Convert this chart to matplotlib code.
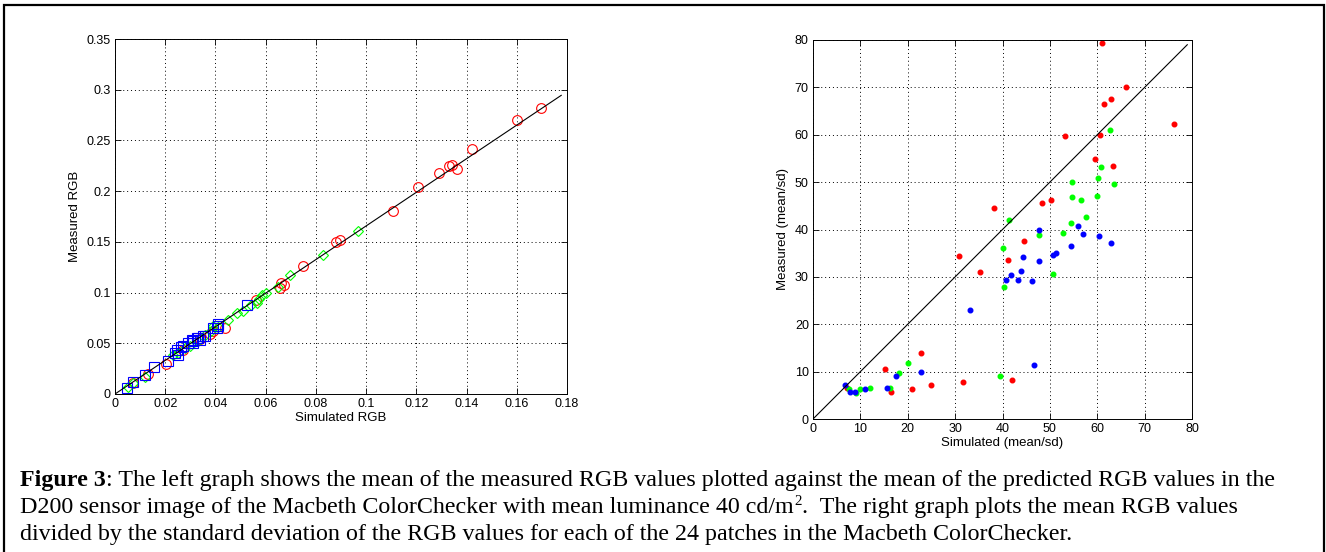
import matplotlib
matplotlib.use("Agg")
import matplotlib.pyplot as plt
from matplotlib.patches import Rectangle

# left graph: mean RGB, simulated vs measured
red_sim = [0.1698, 0.1602, 0.1421, 0.1360, 0.1344, 0.1330, 0.1290, 0.1208, 0.1109, 0.0898,
           0.0879, 0.0749, 0.0663, 0.0673, 0.0659, 0.0560, 0.0438, 0.0391, 0.0203, 0.0131,
           0.0340, 0.0380, 0.0070, 0.0270]
red_meas = [0.2820, 0.2700, 0.2415, 0.2215, 0.2254, 0.2250, 0.2176, 0.2044, 0.1808, 0.1515,
            0.1495, 0.1259, 0.1094, 0.1078, 0.1045, 0.0923, 0.0651, 0.0618, 0.0296, 0.0200,
            0.0540, 0.0590, 0.0110, 0.0430]
green_sim = [0.0969, 0.0829, 0.0696, 0.0650, 0.0586, 0.0573, 0.0564, 0.0508, 0.0484, 0.0381,
             0.0391, 0.0298, 0.0232, 0.0119, 0.0073, 0.0330, 0.0360, 0.0410, 0.0250, 0.0280,
             0.0600, 0.0450, 0.0540, 0.0050]
green_meas = [0.1607, 0.1374, 0.1177, 0.1052, 0.0980, 0.0937, 0.0897, 0.0822, 0.0799, 0.0618,
              0.0674, 0.0470, 0.0388, 0.0164, 0.0108, 0.0520, 0.0580, 0.0660, 0.0400, 0.0450,
              0.1000, 0.0730, 0.0880, 0.0070]
blue_sim = [0.0527, 0.0411, 0.0405, 0.0391, 0.0351, 0.0325, 0.0312, 0.0305, 0.0292, 0.0261,
            0.0248, 0.0239, 0.0252, 0.0212, 0.0157, 0.0119, 0.0073, 0.0046, 0.0330, 0.0340,
            0.0360, 0.0270, 0.0310, 0.0410]
blue_meas = [0.0877, 0.0690, 0.0650, 0.0650, 0.0569, 0.0552, 0.0519, 0.0536, 0.0503, 0.0463,
             0.0437, 0.0404, 0.0388, 0.0329, 0.0263, 0.0191, 0.0115, 0.0059, 0.0550, 0.0530,
             0.0570, 0.0470, 0.0500, 0.0670]
fit_x = [0.0, 0.1777]
fit_slope = 1.657

# right graph: mean / sd
r_sim = [60.9, 66.1, 61.4, 62.9, 76.2, 53.1, 60.5, 59.5, 63.4, 50.3, 48.4, 38.2,
         44.5, 41.2, 30.8, 35.2, 22.9, 15.1, 42.0, 31.7, 24.9, 20.8, 16.5, 7.2]
r_meas = [79.3, 70.0, 66.5, 67.5, 62.3, 59.7, 60.0, 54.8, 53.4, 46.2, 45.5, 44.5,
          37.6, 33.6, 34.5, 31.0, 13.9, 10.6, 8.3, 7.9, 7.2, 6.3, 5.8, 6.6]
g_sim = [62.6, 60.7, 60.2, 63.5, 54.7, 54.7, 59.9, 56.6, 57.6, 41.4, 54.5, 52.8,
         47.6, 40.1, 50.7, 40.3, 20.1, 18.2, 39.4, 16.3, 12.0, 10.0, 9.1, 7.6]
g_meas = [61.1, 53.2, 50.9, 49.5, 50.1, 46.9, 47.1, 46.2, 42.6, 42.1, 41.3, 39.2,
          38.9, 36.0, 30.7, 27.9, 11.8, 9.8, 9.0, 6.5, 6.5, 6.3, 5.4, 6.3]
b_sim = [47.6, 55.9, 56.9, 60.4, 62.8, 54.5, 50.7, 51.2, 44.3, 47.6, 43.8, 41.7,
         40.8, 43.3, 46.2, 33.1, 46.6, 22.9, 17.5, 15.6, 11.0, 8.9, 7.9, 6.8]
b_meas = [39.9, 40.8, 39.1, 38.7, 37.1, 36.6, 34.7, 35.0, 34.3, 33.4, 31.2, 30.3,
          29.4, 29.3, 29.1, 23.1, 11.3, 10.0, 9.0, 6.5, 6.3, 5.8, 5.6, 7.2]
diag = [0, 79]

caption_1 = ": The left graph shows the mean of the measured RGB values plotted against the mean of the predicted RGB values in the"
caption_2a = "D200 sensor image of the Macbeth ColorChecker with mean luminance 40 cd/m"
caption_2b = ".  The right graph plots the mean RGB values"
caption_3 = "divided by the standard deviation of the RGB values for each of the 24 patches in the Macbeth ColorChecker."

plt.rcParams['font.family'] = ['Liberation Sans', 'DejaVu Sans']
plt.rcParams['font.size'] = 9

W, H = 1326, 552
fig = plt.figure(figsize=(W/100, H/100), dpi=100)


def matlab_style(ax):
    ax.grid(True, linestyle=(0, (1, 3)), color='k', linewidth=0.7)
    ax.tick_params(direction='in', length=4, width=0.6, top=True, right=True,
                   labelsize=9, pad=3)
    for s in ax.spines.values():
        s.set_linewidth(0.7)
    ax.set_axisbelow(True)


ax1 = fig.add_axes([115/W, 1-394/H, 452/W, 355/H])
ax1.plot(red_sim, red_meas, 'o', mfc='none', mec='r', ms=7, mew=0.8)
ax1.plot(green_sim, green_meas, 'D', mfc='none', mec='#00ff00', ms=5.5, mew=0.8)
ax1.plot(blue_sim, blue_meas, 's', mfc='none', mec='b', ms=7, mew=0.8)
ax1.plot(fit_x, [fit_slope*v for v in fit_x], 'k-', lw=0.8)
ax1.set_xlim(0, 0.18)
ax1.set_ylim(0, 0.35)
ax1.set_xticks([0, 0.02, 0.04, 0.06, 0.08, 0.1, 0.12, 0.14, 0.16, 0.18])
ax1.set_xticklabels(['0', '0.02', '0.04', '0.06', '0.08', '0.1', '0.12', '0.14', '0.16', '0.18'])
ax1.set_yticks([0, 0.05, 0.1, 0.15, 0.2, 0.25, 0.3, 0.35])
ax1.set_yticklabels(['0', '0.05', '0.1', '0.15', '0.2', '0.25', '0.3', '0.35'])
ax1.set_xlabel('Simulated RGB', fontsize=9.5, labelpad=1)
ax1.set_ylabel('Measured RGB', fontsize=9.5, labelpad=4)
matlab_style(ax1)

ax2 = fig.add_axes([813/W, 1-419/H, 379/W, 379/H])
ax2.plot(r_sim, r_meas, 'o', color='r', ms=3.3, mec='r')
ax2.plot(g_sim, g_meas, 'o', color='#00ff00', ms=3.3, mec='#00ff00')
ax2.plot(b_sim, b_meas, 'o', color='b', ms=3.3, mec='b')
ax2.plot(diag, diag, 'k-', lw=0.8)
ax2.set_xlim(0, 80)
ax2.set_ylim(0, 80)
ax2.set_xticks(range(0, 81, 10))
ax2.set_yticks(range(0, 81, 10))
ax2.set_xlabel('Simulated (mean/sd)', fontsize=9.5, labelpad=1)
ax2.set_ylabel('Measured (mean/sd)', fontsize=9.5, labelpad=4)
matlab_style(ax2)

# outer frame
fig.patches.append(Rectangle((4/W, -0.05), 1320/W, 1-5/H+0.05,
                             transform=fig.transFigure, fill=False,
                             edgecolor='k', linewidth=1.6))

serif = ['Liberation Serif', 'DejaVu Serif']
fs = 17.3
x0 = 20/W
t = fig.text(x0, 1 - 486/H, "Figure 3", family=serif, fontsize=fs, weight='bold', va='baseline')
fig.canvas.draw()
r = fig.canvas.get_renderer()
fig.text(t.get_window_extent(r).x1/W, 1 - 486/H, caption_1, family=serif, fontsize=fs, va='baseline')

t2 = fig.text(x0, 1 - 513/H, caption_2a, family=serif, fontsize=fs, va='baseline')
xe = t2.get_window_extent(r).x1
sup = fig.text(xe/W + 0.5/W, 1 - 505/H, "2", family=serif, fontsize=fs*0.62, va='baseline')
xs = sup.get_window_extent(r).x1
fig.text(xs/W, 1 - 513/H, caption_2b, family=serif, fontsize=fs, va='baseline')
fig.text(x0, 1 - 540/H, caption_3, family=serif, fontsize=fs, va='baseline')

fig.savefig('out.png', dpi=100)
